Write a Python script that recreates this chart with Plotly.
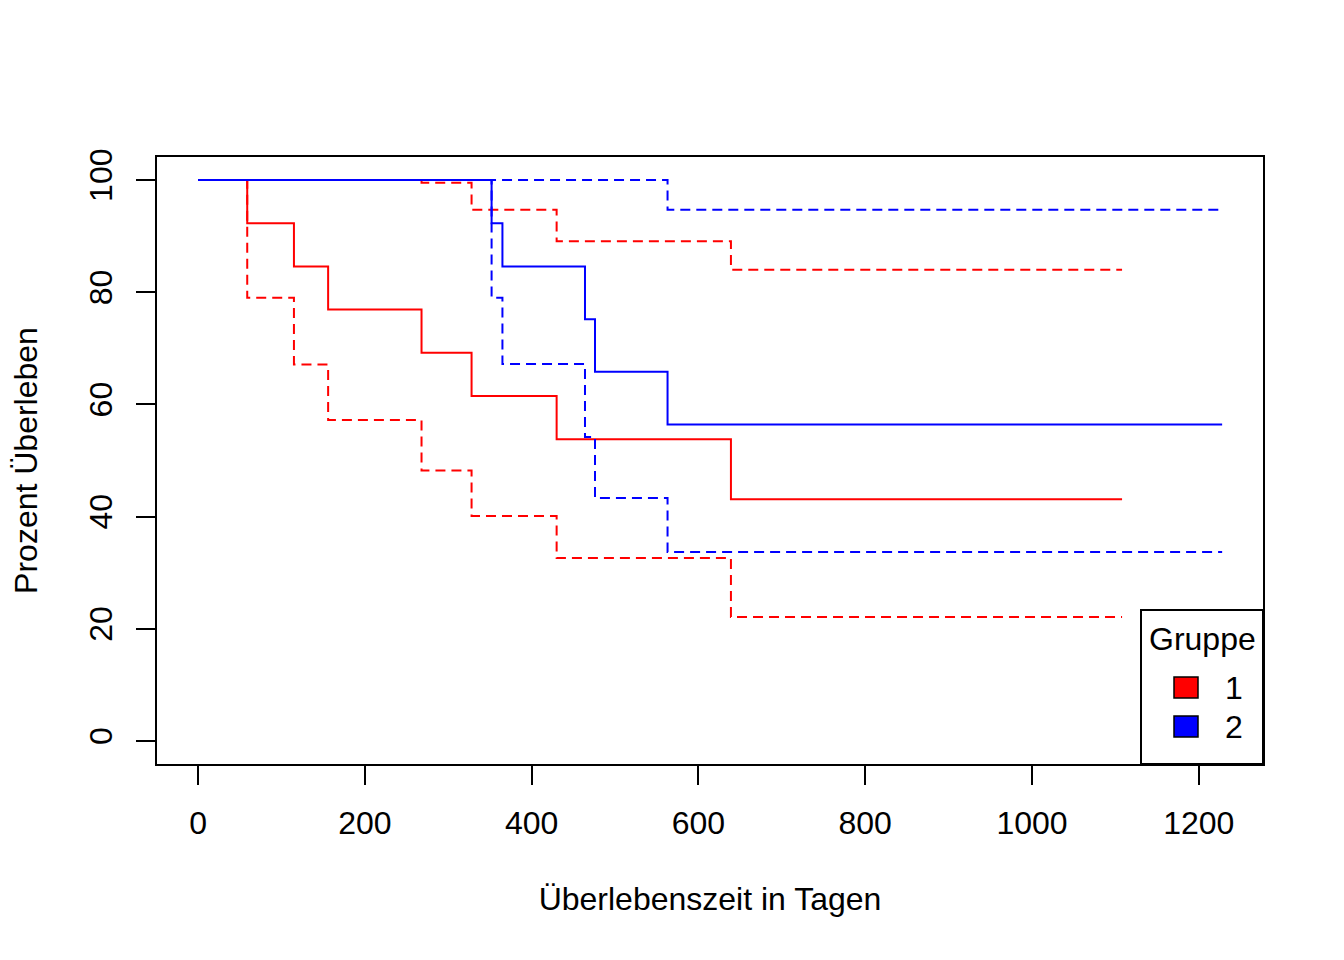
import plotly.graph_objects as go

# ---- data ----
red_time  = [0, 59, 115, 156, 268, 328, 430, 639, 1108]
red_surv  = [100, 92.3, 84.6, 76.9, 69.2, 61.5, 53.8, 43.1, 43.1]
red_lower = [100, 79.0, 67.1, 57.2, 48.2, 40.1, 32.6, 22.1, 22.1]
red_upper = [100, 100, 100, 100, 99.5, 94.7, 89.1, 84.0, 84.0]

blue_time  = [0, 352, 365, 464, 476, 563, 1228]
blue_surv  = [100, 92.3, 84.6, 75.2, 65.8, 56.4, 56.4]
blue_lower = [100, 79.0, 67.2, 54.2, 43.3, 33.7, 33.7]
blue_upper = [100, 100, 100, 100, 100, 94.7, 94.7]

groups = ["1", "2"]
colors = ["#FF0000", "#0000FF"]
x_ticks = [0, 200, 400, 600, 800, 1000, 1200]
y_ticks = [0, 20, 40, 60, 80, 100]

FONT = "Liberation Sans, Arial, sans-serif"
FS = 32

W, H = 1344, 960
OFF = 8  # page body margin
L, R, T, B = 157, 1263, 157, 764  # target plot box in page pixels

fig = go.Figure()

series = [
    (red_time, red_surv, red_lower, red_upper, colors[0]),
    (blue_time, blue_surv, blue_lower, blue_upper, colors[1]),
]
for t, s, lo, up, c in series:
    fig.add_trace(go.Scatter(x=t, y=s, mode="lines", line=dict(color=c, width=2, shape="hv"),
                             showlegend=False, hoverinfo="skip"))
    for ci in (lo, up):
        fig.add_trace(go.Scatter(x=t, y=ci, mode="lines",
                                 line=dict(color=c, width=2, shape="hv", dash="10px,6px"),
                                 showlegend=False, hoverinfo="skip"))

# ---- manual R-style legend in paper coords ----
def px(xp):
    return (xp - L) / (R - L)

def py(yp):
    return (B - yp) / (B - T)

shapes = [dict(type="rect", xref="paper", yref="paper",
               x0=px(1141), x1=px(1263), y0=py(764), y1=py(610),
               line=dict(color="black", width=2), fillcolor="white", layer="above")]
annotations = [dict(text="Gruppe", xref="paper", yref="paper", x=px(1202), y=py(639),
                    showarrow=False, font=dict(family=FONT, size=FS, color="black"),
                    xanchor="center", yanchor="middle")]
sq_top = [677, 716]
for i, g in enumerate(groups):
    shapes.append(dict(type="rect", xref="paper", yref="paper",
                       x0=px(1174), x1=px(1198), y0=py(sq_top[i] + 21), y1=py(sq_top[i]),
                       line=dict(color="black", width=1.5), fillcolor=colors[i], layer="above"))
    annotations.append(dict(text=g, xref="paper", yref="paper", x=px(1234), y=py(sq_top[i] + 11),
                            showarrow=False, font=dict(family=FONT, size=FS, color="black"),
                            xanchor="center", yanchor="middle"))

fig.update_layout(
    width=W, height=H,
    margin=dict(l=L - OFF, r=W + OFF - R, t=T - OFF, b=H + OFF - B),
    paper_bgcolor="white", plot_bgcolor="white",
    font=dict(family=FONT, size=FS, color="black"),
    shapes=shapes, annotations=annotations,
    showlegend=False,
)
fig.update_xaxes(
    range=[-49.2, 1277], tickvals=x_ticks, ticktext=[str(v) for v in x_ticks],
    automargin=False,
    showgrid=False, zeroline=False, showline=True, mirror=True, linecolor="black", linewidth=2,
    ticks="outside", ticklen=19, tickwidth=2, tickcolor="black",
    tickfont=dict(family=FONT, size=FS), ticklabelstandoff=11,
    title=dict(text="Überlebenszeit in Tagen", font=dict(family=FONT, size=FS), standoff=47),
)
fig.update_yaxes(
    range=[-4.1, 104.1], tickvals=y_ticks, ticktext=[str(v) for v in y_ticks],
    automargin=False,
    showgrid=False, zeroline=False, showline=True, mirror=True, linecolor="black", linewidth=2,
    ticks="outside", ticklen=19, tickwidth=2, tickcolor="black", tickangle=-90,
    tickfont=dict(family=FONT, size=FS), ticklabelstandoff=11,
    title=dict(text="Prozent Überleben", font=dict(family=FONT, size=FS), standoff=45),
)

fig.write_html("out.html")
